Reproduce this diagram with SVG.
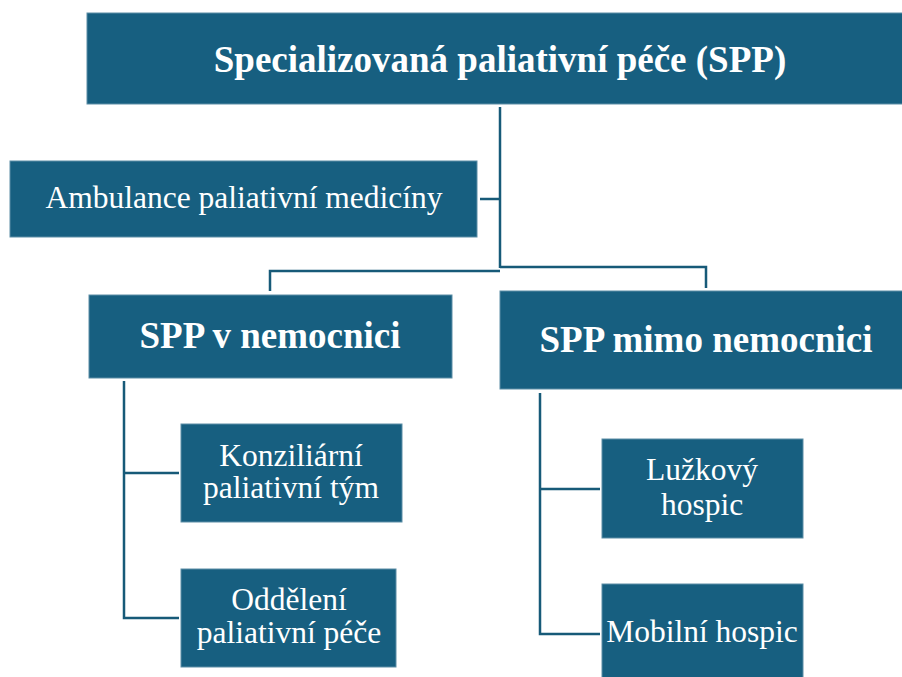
<svg xmlns="http://www.w3.org/2000/svg" width="902" height="677" viewBox="0 0 902 677">
<style>
.box{fill:#175f80;stroke:#5d8ea6;stroke-width:1}
.t{fill:#ffffff;font-family:"Liberation Serif","Times New Roman",serif;text-anchor:middle}
.b{font-weight:bold;font-size:37px}
.r{font-size:31.5px}
.c{fill:none;stroke:#175a78;stroke-width:2.5}
</style>
<rect width="902" height="677" fill="#ffffff"/>
<g id="connectors">
<path class="c" d="M500 107V268"/>
<path class="c" d="M480 199H500"/>
<path class="c" d="M500 271H270V291"/>
<path class="c" d="M500 267H706V288"/>
<path class="c" d="M124 381V618H179"/>
<path class="c" d="M124 473H179"/>
<path class="c" d="M540 393V634H600"/>
<path class="c" d="M540 489H600"/>
</g>
<g id="spp">
<rect class="box" x="87" y="13" width="820" height="91"/>
<text class="t b" x="500" y="72">Specializovaná paliativní péče (SPP)</text>
</g>
<g id="ambulance">
<rect class="box" x="10" y="161" width="467" height="76"/>
<text class="t r" x="244" y="208">Ambulance paliativní medicíny</text>
</g>
<g id="v-nemocnici">
<rect class="box" x="89" y="295" width="363" height="83"/>
<text class="t b" x="270" y="348">SPP v nemocnici</text>
</g>
<g id="mimo-nemocnici">
<rect class="box" x="500" y="291" width="410" height="98"/>
<text class="t b" x="706" y="352">SPP mimo nemocnici</text>
</g>
<g id="konziliarni">
<rect class="box" x="181" y="424" width="221" height="98"/>
<text class="t r" x="291" y="466">Konziliární</text>
<text class="t r" x="291" y="498">paliativní tým</text>
</g>
<g id="oddeleni">
<rect class="box" x="181" y="569" width="215" height="98"/>
<text class="t r" x="289" y="610">Oddělení</text>
<text class="t r" x="289" y="643">paliativní péče</text>
</g>
<g id="luzkovy">
<rect class="box" x="602" y="439" width="201" height="99"/>
<text class="t r" x="702" y="480">Lužkový</text>
<text class="t r" x="702" y="515">hospic</text>
</g>
<g id="mobilni">
<rect class="box" x="602" y="584" width="201" height="100"/>
<text class="t r" x="702" y="642">Mobilní hospic</text>
</g>
</svg>
